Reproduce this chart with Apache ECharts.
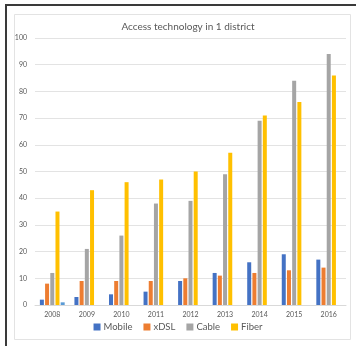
<!DOCTYPE html>
<html>
<head>
<meta charset="utf-8">
<script src="https://cdn.jsdelivr.net/npm/echarts@6/dist/echarts.min.js"></script>
<style>
  html, body { margin: 0; padding: 0; background: #ffffff; }
  #chart { width: 356px; height: 346px; }
</style>
</head>
<body>
<div id="chart"></div>
<script>
// data
var years = ['2008', '2009', '2010', '2011', '2012', '2013', '2014', '2015', '2016'];
var mobile = [2, 3, 4, 5, 9, 12, 16, 19, 17];
var xdsl = [8, 9, 9, 9, 10, 11, 12, 13, 14];
var cable = [12, 21, 26, 38, 39, 49, 69, 84, 94];
var fiber = [35, 43, 46, 47, 50, 57, 71, 76, 86];
var extra = [1, null, null, null, null, null, null, null, null]; // stray 5th series
var yTicks = [0, 10, 20, 30, 40, 50, 60, 70, 80, 90, 100];

var chart = echarts.init(document.getElementById('chart'), null, { renderer: 'canvas' });

function bar(name, data, color) {
    return {
        name: name,
        type: 'bar',
        data: data,
        barWidth: 4,
        barGap: '30%',
        itemStyle: { color: color },
        emphasis: { disabled: true }
    };
}

var option = {
    animation: false,
    textStyle: { fontFamily: 'Lato, Open Sans, sans-serif' },
    title: {
        text: 'Access technology in 1 district',
        left: 183,
        textAlign: 'center',
        top: 17,
        textStyle: { fontSize: 10, fontWeight: 'normal', color: '#595959' }
    },
    graphic: [
        // outer dark frame (top and left edges)
        { type: 'rect', shape: { x: 5, y: 4, width: 351, height: 2 }, style: { fill: '#3a3a3a' } },
        { type: 'rect', shape: { x: 5, y: 4, width: 2, height: 342 }, style: { fill: '#3a3a3a' } },
        // inner light chart border
        { type: 'rect', shape: { x: 14.5, y: 14.5, width: 336, height: 325 },
          style: { fill: 'none', stroke: '#e3e3e3', lineWidth: 1 } }
    ],
    legend: {
        data: ['Mobile', 'xDSL', 'Cable', 'Fiber'],
        bottom: 9,
        left: 'center',
        itemWidth: 7,
        itemHeight: 7,
        itemGap: 11,
        icon: 'rect',
        textStyle: { fontSize: 9.5, color: '#595959', padding: [0, 0, 0, -2] }
    },
    grid: { left: 35, right: 10, top: 38, bottom: 41 },
    xAxis: {
        type: 'category',
        data: years,
        axisTick: { show: false },
        axisLine: { lineStyle: { color: '#d9d9d9' } },
        axisLabel: { fontSize: 7, color: '#595959', margin: 6 }
    },
    yAxis: {
        type: 'value',
        min: yTicks[0],
        max: yTicks[yTicks.length - 1],
        interval: 10,
        axisLine: { show: false },
        axisTick: { show: false },
        splitLine: { lineStyle: { color: '#e3e3e3' } },
        axisLabel: { fontSize: 7, color: '#595959', margin: 8 }
    },
    series: [
        bar('Mobile', mobile, '#4472c4'),
        bar('xDSL', xdsl, '#ed7d31'),
        bar('Cable', cable, '#a5a5a5'),
        bar('Fiber', fiber, '#ffc000'),
        bar('', extra, '#5b9bd5')
    ]
};
chart.setOption(option);
</script>
</body>
</html>
